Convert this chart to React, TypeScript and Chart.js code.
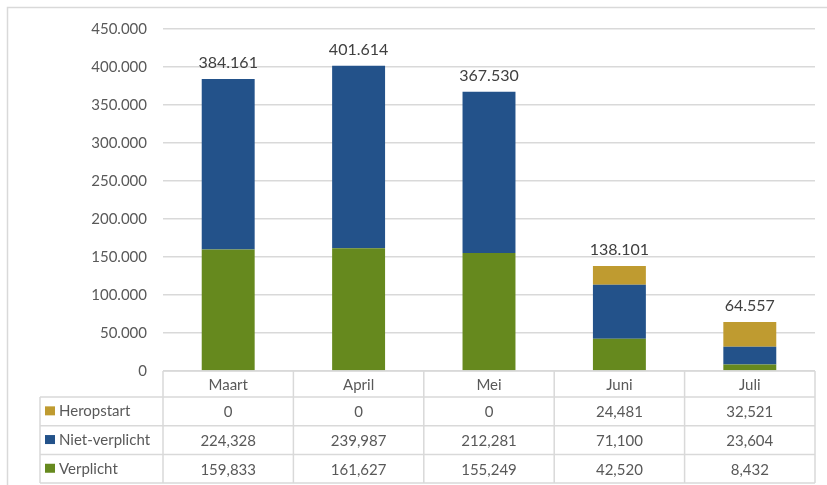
import React, { useEffect, useRef } from "react";
import { Chart, registerables } from "chart.js";

Chart.register(...registerables);

const categories = ["Maart", "April", "Mei", "Juni", "Juli"];
const verplicht = [159833, 161627, 155249, 42520, 8432];
const nietVerplicht = [224328, 239987, 212281, 71100, 23604];
const heropstart = [0, 0, 0, 24481, 32521];
const totals = [384161, 401614, 367530, 138101, 64557];
const yMax = 450000;
const yStep = 50000;

const seriesNames = ["Heropstart", "Niet-verplicht", "Verplicht"];
const seriesColors = ["#bf9b30", "#23528a", "#66891e"];
const seriesValues = [heropstart, nietVerplicht, verplicht];

const FONT = "Lato, 'Open Sans', sans-serif";
const TEXT = "#595959";
const LINE = "#d9d9d9";

function groupDigits(n: number, sep: string): string {
  const s = Math.round(Math.abs(n)).toString();
  let out = "";
  for (let i = 0; i < s.length; i++) {
    const fromEnd = s.length - i;
    out += s[i];
    if (fromEnd > 1 && (fromEnd - 1) % 3 === 0) out += sep;
  }
  return (n < 0 ? "-" : "") + out;
}

const framePlugin = {
  id: "frame",
  beforeDraw(chart: any) {
    const ctx = chart.ctx;
    ctx.save();
    ctx.fillStyle = "#ffffff";
    ctx.fillRect(0, 0, chart.width, chart.height);
    ctx.strokeStyle = LINE;
    ctx.lineWidth = 1.5;
    ctx.beginPath();
    ctx.moveTo(7.5, chart.height);
    ctx.lineTo(7.5, 7.5);
    ctx.lineTo(chart.width, 7.5);
    ctx.stroke();
    ctx.restore();
  },
};

const labelsPlugin = {
  id: "totalsLabels",
  afterDatasetsDraw(chart: any) {
    const ctx = chart.ctx;
    const xs = chart.scales.x;
    const ys = chart.scales.y;
    ctx.save();
    ctx.fillStyle = "#404040";
    ctx.font = `16px ${FONT}`;
    ctx.textAlign = "center";
    ctx.textBaseline = "alphabetic";
    totals.forEach((t, i) => {
      const x = xs.getPixelForValue(i);
      const y = ys.getPixelForValue(t);
      ctx.fillText(groupDigits(t, "."), x, y - 11);
    });
    ctx.restore();
  },
};

const tablePlugin = {
  id: "dataTable",
  afterDraw(chart: any) {
    const ctx = chart.ctx;
    const xs = chart.scales.x;
    const area = chart.chartArea;
    const n = categories.length;
    const colW = (area.right - area.left) / n;
    const top = area.bottom;
    const headerH = 26;
    const rowH = 28.7;
    const legendLeft = 40;
    const rowsTop = top + headerH;
    const bottom = rowsTop + rowH * seriesNames.length;

    ctx.save();
    ctx.strokeStyle = LINE;
    ctx.lineWidth = 1.5;
    ctx.beginPath();
    ctx.moveTo(area.left, top);
    ctx.lineTo(area.right, top);
    for (let r = 0; r <= seriesNames.length; r++) {
      const y = rowsTop + r * rowH;
      ctx.moveTo(legendLeft, y);
      ctx.lineTo(area.right, y);
    }
    ctx.moveTo(legendLeft, rowsTop);
    ctx.lineTo(legendLeft, bottom);
    for (let c = 0; c <= n; c++) {
      const x = area.left + c * colW;
      ctx.moveTo(x, top);
      ctx.lineTo(x, bottom);
    }
    ctx.stroke();

    ctx.font = `15px ${FONT}`;
    ctx.fillStyle = TEXT;
    ctx.textBaseline = "middle";
    ctx.textAlign = "center";
    categories.forEach((c, i) => {
      ctx.fillText(c, xs.getPixelForValue(i), top + headerH / 2 + 1);
    });

    seriesNames.forEach((name, r) => {
      const cy = rowsTop + r * rowH + rowH / 2;
      ctx.fillStyle = seriesColors[r];
      ctx.fillRect(45, cy - 5, 10, 9);
      ctx.fillStyle = TEXT;
      ctx.textAlign = "left";
      ctx.fillText(name, 59, cy);
      ctx.textAlign = "center";
      seriesValues[r].forEach((v, i) => {
        ctx.fillText(groupDigits(v, ","), xs.getPixelForValue(i), cy + 1);
      });
    });
    ctx.restore();
  },
};

export default function App() {
  const canvasRef = useRef<HTMLCanvasElement | null>(null);

  useEffect(() => {
    if (!canvasRef.current) return;
    const chart = new Chart(canvasRef.current, {
      type: "bar",
      data: {
        labels: categories,
        datasets: [
          { label: "Verplicht", data: verplicht, backgroundColor: seriesColors[2] },
          { label: "Niet-verplicht", data: nietVerplicht, backgroundColor: seriesColors[1] },
          { label: "Heropstart", data: heropstart, backgroundColor: seriesColors[0] },
        ],
      },
      options: {
        animation: false,
        responsive: true,
        maintainAspectRatio: false,
        layout: { padding: { top: 29, bottom: 114, left: 0, right: 12 } },
        datasets: {
          bar: { categoryPercentage: 1, barPercentage: 0.406, borderWidth: 0 },
        },
        plugins: {
          legend: { display: false },
          tooltip: { enabled: false },
          title: { display: false },
        },
        scales: {
          x: {
            stacked: true,
            display: false,
          },
          y: {
            stacked: true,
            min: 0,
            max: yMax,
            border: { display: false },
            grid: { color: LINE, lineWidth: 1.5, drawTicks: false },
            ticks: {
              stepSize: yStep,
              padding: 16,
              color: TEXT,
              font: { family: FONT, size: 15 },
              callback: (v: any) => groupDigits(Number(v), "."),
            },
            afterFit: (scale: any) => {
              scale.width = 163;
            },
          },
        },
      },
      plugins: [framePlugin, labelsPlugin, tablePlugin],
    });
    return () => chart.destroy();
  }, []);

  return (
    <div style={{ position: "absolute", left: 0, top: 0, width: 827, height: 485 }}>
      <canvas ref={canvasRef} />
    </div>
  );
}
